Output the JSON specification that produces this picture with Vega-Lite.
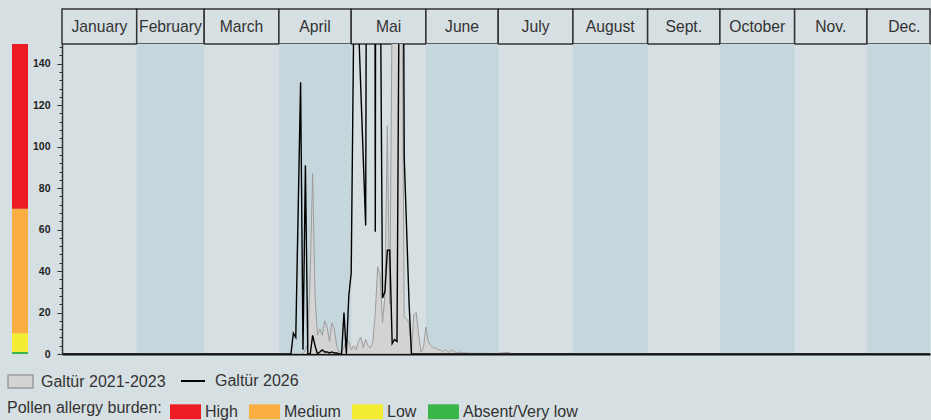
{
  "$schema": "https://vega.github.io/schema/vega-lite/v6.json",
  "background": "#d6dfe2",
  "padding": {"left": 7, "top": 8, "right": 0, "bottom": 0},
  "bounds": "flush",
  "align": "each",
  "columns": 2,
  "spacing": {"row": 0, "column": 34},
  "datasets": {
    "months": [
      {"m": 1, "name": "January", "start": 0, "end": 31},
      {"m": 2, "name": "February", "start": 31, "end": 59},
      {"m": 3, "name": "March", "start": 59, "end": 90},
      {"m": 4, "name": "April", "start": 90, "end": 120},
      {"m": 5, "name": "Mai", "start": 120, "end": 151},
      {"m": 6, "name": "June", "start": 151, "end": 181},
      {"m": 7, "name": "July", "start": 181, "end": 212},
      {"m": 8, "name": "August", "start": 212, "end": 243},
      {"m": 9, "name": "Sept.", "start": 243, "end": 273},
      {"m": 10, "name": "October", "start": 273, "end": 304},
      {"m": 11, "name": "Nov.", "start": 304, "end": 334},
      {"m": 12, "name": "Dec.", "start": 334, "end": 365}
    ],
    "burden": [
      {"level": "Absent/Very low", "lo": 0, "hi": 1},
      {"level": "Low", "lo": 1, "hi": 10},
      {"level": "Medium", "lo": 10, "hi": 70},
      {"level": "High", "lo": 70, "hi": 150}
    ],
    "avg": [
      {"d": 0, "v": 0}, {"d": 98, "v": 0}, {"d": 100, "v": 0}, {"d": 101, "v": 2}, {"d": 102, "v": 5},
      {"d": 103, "v": 40}, {"d": 104, "v": 87}, {"d": 105, "v": 28}, {"d": 106, "v": 9}, {"d": 107, "v": 12},
      {"d": 108, "v": 9}, {"d": 109, "v": 16}, {"d": 110, "v": 13}, {"d": 111, "v": 6}, {"d": 112, "v": 15},
      {"d": 113, "v": 12}, {"d": 114, "v": 4}, {"d": 115, "v": 1}, {"d": 116, "v": 1}, {"d": 117, "v": 3},
      {"d": 118, "v": 7}, {"d": 119, "v": 6}, {"d": 120, "v": 2}, {"d": 121, "v": 4}, {"d": 122, "v": 2},
      {"d": 123, "v": 6}, {"d": 124, "v": 8}, {"d": 125, "v": 3}, {"d": 126, "v": 7}, {"d": 127, "v": 4},
      {"d": 128, "v": 3}, {"d": 129, "v": 6}, {"d": 130, "v": 20}, {"d": 131, "v": 42}, {"d": 132, "v": 38},
      {"d": 133, "v": 15}, {"d": 134, "v": 28}, {"d": 135, "v": 110}, {"d": 136, "v": 24}, {"d": 137, "v": 170},
      {"d": 138, "v": 260}, {"d": 139, "v": 320}, {"d": 140, "v": 240}, {"d": 141, "v": 190}, {"d": 142, "v": 18},
      {"d": 143, "v": 17}, {"d": 144, "v": 15}, {"d": 145, "v": 1}, {"d": 146, "v": 19}, {"d": 147, "v": 20},
      {"d": 148, "v": 9}, {"d": 149, "v": 1}, {"d": 150, "v": 3}, {"d": 151, "v": 13}, {"d": 152, "v": 6},
      {"d": 153, "v": 4}, {"d": 154, "v": 3}, {"d": 155, "v": 3}, {"d": 156, "v": 2}, {"d": 157, "v": 2},
      {"d": 158, "v": 1}, {"d": 159, "v": 2}, {"d": 160, "v": 1}, {"d": 161, "v": 1}, {"d": 162, "v": 2},
      {"d": 163, "v": 1}, {"d": 164, "v": 0.5}, {"d": 165, "v": 1}, {"d": 166, "v": 0.5}, {"d": 168, "v": 0.5},
      {"d": 170, "v": 0.3}, {"d": 175, "v": 0.3}, {"d": 180, "v": 0.2}, {"d": 185, "v": 0.8}, {"d": 187, "v": 0},
      {"d": 365, "v": 0}
    ],
    "cur": [
      {"d": 0, "v": 0}, {"d": 95, "v": 0}, {"d": 96, "v": 10}, {"d": 97, "v": 8}, {"d": 99, "v": 131},
      {"d": 100, "v": 2}, {"d": 101, "v": 91}, {"d": 102, "v": 0}, {"d": 103, "v": 0}, {"d": 104, "v": 9},
      {"d": 105, "v": 4}, {"d": 106, "v": 0}, {"d": 107, "v": 1}, {"d": 108, "v": 2}, {"d": 109, "v": 1},
      {"d": 110, "v": 1}, {"d": 111, "v": 0.5}, {"d": 112, "v": 1}, {"d": 113, "v": 0.5}, {"d": 114, "v": 0.5},
      {"d": 115, "v": 0}, {"d": 116, "v": 0}, {"d": 117, "v": 20}, {"d": 118, "v": 0}, {"d": 119, "v": 28},
      {"d": 120, "v": 39}, {"d": 121, "v": 155}, {"d": 122, "v": 250}, {"d": 123, "v": 160}, {"d": 126, "v": 62},
      {"d": 127, "v": 500}, {"d": 128, "v": 600}, {"d": 129, "v": 1000}, {"d": 130, "v": 59}, {"d": 131, "v": 1000},
      {"d": 132, "v": 200}, {"d": 133, "v": 27}, {"d": 134, "v": 30}, {"d": 135, "v": 50}, {"d": 136, "v": 50},
      {"d": 137, "v": 5}, {"d": 138, "v": 7}, {"d": 139, "v": 6}, {"d": 140, "v": 200}, {"d": 141, "v": 400},
      {"d": 142, "v": 95}, {"d": 143, "v": 60}, {"d": 144, "v": 25}, {"d": 145, "v": 0}, {"d": 365, "v": 0}
    ]
  },
  "concat": [
    {
      "width": 16, "height": 35,
      "data": {"values": []},
      "mark": "point"
    },
    {
      "width": 868, "height": 35,
      "data": {"name": "months"},
      "transform": [{"calculate": "(datum.start + datum.end) / 2", "as": "mid"}],
      "layer": [
        {
          "mark": {"type": "rect", "fill": "#d6dfe2", "stroke": "#333333", "strokeWidth": 1.5},
          "encoding": {
            "x": {"field": "start", "type": "quantitative", "scale": {"domain": [0, 360.17], "nice": false, "zero": false, "clamp": true}, "axis": null},
            "x2": {"field": "end"}
          }
        },
        {
          "mark": {"type": "text", "fontSize": 15.7, "color": "#333333", "baseline": "middle", "font": "Liberation Sans"},
          "encoding": {
            "x": {"field": "mid", "type": "quantitative"},
            "text": {"field": "name"}
          }
        }
      ]
    },
    {
      "width": 16, "height": 310,
      "data": {"name": "burden"},
      "mark": {"type": "rect", "clip": true},
      "encoding": {
        "y": {"field": "lo", "type": "quantitative", "scale": {"domain": [0, 149.5], "nice": false}, "axis": null},
        "y2": {"field": "hi"},
        "fill": {
          "field": "level", "type": "nominal",
          "scale": {"domain": ["High", "Medium", "Low", "Absent/Very low"], "range": ["#ed1c24", "#fbae42", "#f4ec33", "#3ab54a"]},
          "legend": {
            "orient": "none", "legendX": -5, "legendY": 387, "direction": "horizontal",
            "title": "Pollen allergy burden:", "titleOrient": "left", "titleFontSize": 16, "titleFontWeight": "normal",
            "titleColor": "#333333", "titlePadding": 8, "titleFont": "Liberation Sans", "titleBaseline": "middle",
            "symbolType": "M-1,-0.48H1V0.48H-1Z", "symbolSize": 961, "symbolStrokeWidth": 0, "symbolOpacity": 1,
            "labelFontSize": 16, "labelColor": "#333333", "labelFont": "Liberation Sans", "labelOffset": 4,
            "columnPadding": 11, "padding": 0
          }
        }
      }
    },
    {
      "width": 868, "height": 310,
      "resolve": {"scale": {"color": "independent"}},
      "layer": [
        {
          "data": {"name": "months"},
          "transform": [{"filter": "datum.m % 2 === 0"}],
          "mark": {"type": "rect", "fill": "#c5d7dc"},
          "encoding": {
            "x": {
              "field": "start", "type": "quantitative",
              "scale": {"domain": [0, 360.17], "nice": false, "zero": false, "clamp": true},
              "axis": {"orient": "bottom", "labels": false, "ticks": false, "grid": false, "title": null, "domainColor": "#111111", "domainWidth": 2}
            },
            "x2": {"field": "end"}
          }
        },
        {
          "data": {"name": "avg"},
          "transform": [{"calculate": "'Galtür 2021-2023'", "as": "series"}],
          "mark": {"type": "area", "clip": true, "stroke": "#9c9c9c", "strokeWidth": 1, "opacity": 1},
          "encoding": {
            "x": {"field": "d", "type": "quantitative"},
            "y": {
              "field": "v", "type": "quantitative", "stack": null,
              "scale": {"domain": [0, 149.5], "nice": false},
              "axis": {
                "orient": "left", "title": null, "grid": false, "tickCount": 60,
                "values": [0, 4, 8, 12, 16, 20, 24, 28, 32, 36, 40, 44, 48, 52, 56, 60, 64, 68, 72, 76, 80, 84, 88, 92, 96, 100, 104, 108, 112, 116, 120, 124, 128, 132, 136, 140, 144, 148],
                "labelExpr": "datum.value % 20 === 0 ? datum.label : ''",
                "labelOverlap": false, "labelBound": false, "labelFlush": false,
                "tickSize": {"condition": {"test": "datum.value % 20 === 0", "value": 5}, "value": 3},
                "tickColor": "#333333", "tickWidth": 1,
                "domainColor": "#333333", "domainWidth": 1.5,
                "labelFont": "Liberation Sans", "labelFontWeight": "bold", "labelFontSize": 10.5, "labelColor": "#222222",
                "labelPadding": 7
              }
            },
            "color": {
              "field": "series", "type": "nominal",
              "scale": {"range": ["#d3d3d3"]},
              "legend": {
                "orient": "none", "legendX": -55, "legendY": 324, "title": null,
                "symbolType": "M-1,-0.52H1V0.52H-1Z", "symbolSize": 625,
                "symbolFillColor": "#d3d3d3", "symbolStrokeColor": "#9c9c9c", "symbolStrokeWidth": 1.5, "symbolOpacity": 1,
                "labelFontSize": 16, "labelColor": "#333333", "labelFont": "Liberation Sans", "labelOffset": 7, "padding": 0
              }
            }
          }
        },
        {
          "data": {"name": "cur"},
          "transform": [{"calculate": "'Galtür 2026'", "as": "series"}],
          "mark": {"type": "line", "clip": true, "strokeWidth": 1.4},
          "encoding": {
            "x": {"field": "d", "type": "quantitative"},
            "y": {"field": "v", "type": "quantitative"},
            "color": {
              "field": "series", "type": "nominal",
              "scale": {"range": ["#000000"]},
              "legend": {
                "orient": "none", "legendX": 118, "legendY": 324, "title": null,
                "symbolType": "stroke", "symbolSize": 576, "symbolStrokeWidth": 2,
                "labelFontSize": 16, "labelColor": "#333333", "labelFont": "Liberation Sans", "labelOffset": 9, "padding": 0
              }
            }
          }
        }
      ]
    }
  ],
  "config": {
    "view": {"stroke": null},
    "font": "Liberation Sans"
  }
}
